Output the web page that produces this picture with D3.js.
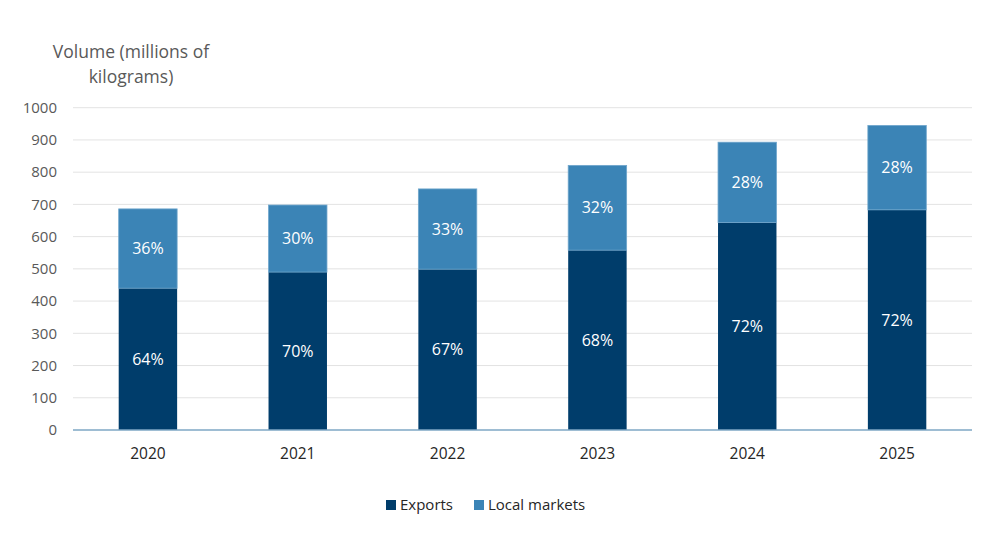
<!DOCTYPE html>
<html>
<head>
<meta charset="utf-8">
<script src="https://cdn.jsdelivr.net/npm/d3@7"></script>
<style>
body{margin:0;background:#fff}
text{font-family:"Open Sans",sans-serif}
</style>
</head>
<body>
<div id="chart"></div>
<script>
var w = 992
var h = 558
var years = ["2020","2021","2022","2023","2024","2025"]
var exportsVol = [440,490,499,558,644,683]
var localVol = [246,208,249,263,249,262]
var exportsPct = ["64%","70%","67%","68%","72%","72%"]
var localPct = ["36%","30%","33%","32%","28%","28%"]
var yTicks = [0,100,200,300,400,500,600,700,800,900,1000]
var series = ["Exports","Local markets"]
var colors = ["#003d6b","#3b84b6"]

var plotLeft = 73, plotRight = 972, plotTop = 107.7, plotBottom = 430

var svg = d3.select("#chart").append("svg").attr("width",w).attr("height",h)

var x = d3.scaleBand().domain(years).range([plotLeft,plotRight]).paddingInner(0.61).paddingOuter(0.305)
var y = d3.scaleLinear().domain([0,1000]).range([plotBottom,plotTop])

// gridlines
svg.selectAll(".grid").data(yTicks.filter(function(d){return d>0})).enter()
  .append("line")
  .attr("x1",plotLeft).attr("x2",plotRight)
  .attr("y1",function(d){return y(d)}).attr("y2",function(d){return y(d)})
  .attr("stroke","#e3e3e3").attr("stroke-width",1)

// y tick labels
svg.selectAll(".ytick").data(yTicks).enter()
  .append("text")
  .attr("x",57).attr("y",function(d){return y(d)})
  .attr("dy","0.35em").attr("text-anchor","end")
  .attr("font-size",15).attr("fill","#595959")
  .text(function(d){return d})

// title
svg.append("text").attr("x",131).attr("y",58).attr("text-anchor","middle")
  .attr("font-size",17.5).attr("fill","#595959").text("Volume (millions of")
svg.append("text").attr("x",131).attr("y",83).attr("text-anchor","middle")
  .attr("font-size",17.5).attr("fill","#595959").text("kilograms)")

var data = years.map(function(yr,i){
  return {year:yr, ex:exportsVol[i], loc:localVol[i], exP:exportsPct[i], locP:localPct[i]}
})

var g = svg.selectAll(".bar").data(data).enter().append("g")

g.append("rect")
  .attr("x",function(d){return x(d.year)})
  .attr("width",x.bandwidth())
  .attr("y",function(d){return y(d.ex)})
  .attr("height",function(d){return y(0)-y(d.ex)})
  .attr("fill",colors[0])

g.append("rect")
  .attr("x",function(d){return x(d.year)})
  .attr("width",x.bandwidth())
  .attr("y",function(d){return y(d.ex+d.loc)})
  .attr("height",function(d){return y(d.ex)-y(d.ex+d.loc)})
  .attr("fill",colors[1])
  .attr("stroke","#6fa6cc").attr("stroke-width",0.8)

g.append("text")
  .attr("x",function(d){return x(d.year)+x.bandwidth()/2})
  .attr("y",function(d){return y(d.ex/2)})
  .attr("dy","0.35em").attr("text-anchor","middle")
  .attr("font-size",16).attr("fill","#fff")
  .text(function(d){return d.exP})

g.append("text")
  .attr("x",function(d){return x(d.year)+x.bandwidth()/2})
  .attr("y",function(d){return y(d.ex+d.loc/2)})
  .attr("dy","0.35em").attr("text-anchor","middle")
  .attr("font-size",16).attr("fill","#fff")
  .text(function(d){return d.locP})

// baseline
svg.append("line").attr("x1",plotLeft).attr("x2",plotRight)
  .attr("y1",y(0)).attr("y2",y(0))
  .attr("stroke","#7ea7c4").attr("stroke-width",1.5)

// x labels
svg.selectAll(".xl").data(years).enter()
  .append("text")
  .attr("x",function(d){return x(d)+x.bandwidth()/2})
  .attr("y",454).attr("dy","0.35em").attr("text-anchor","middle")
  .attr("font-size",15.5).attr("fill","#262626")
  .text(function(d){return d})

// legend
var lx = [386,474]
series.forEach(function(s,i){
  svg.append("rect").attr("x",lx[i]).attr("y",500).attr("width",10).attr("height",10).attr("fill",colors[i])
  svg.append("text").attr("x",lx[i]+14).attr("y",505).attr("dy","0.35em")
    .attr("font-size",15).attr("fill","#262626").text(s)
})
</script>
</body>
</html>
